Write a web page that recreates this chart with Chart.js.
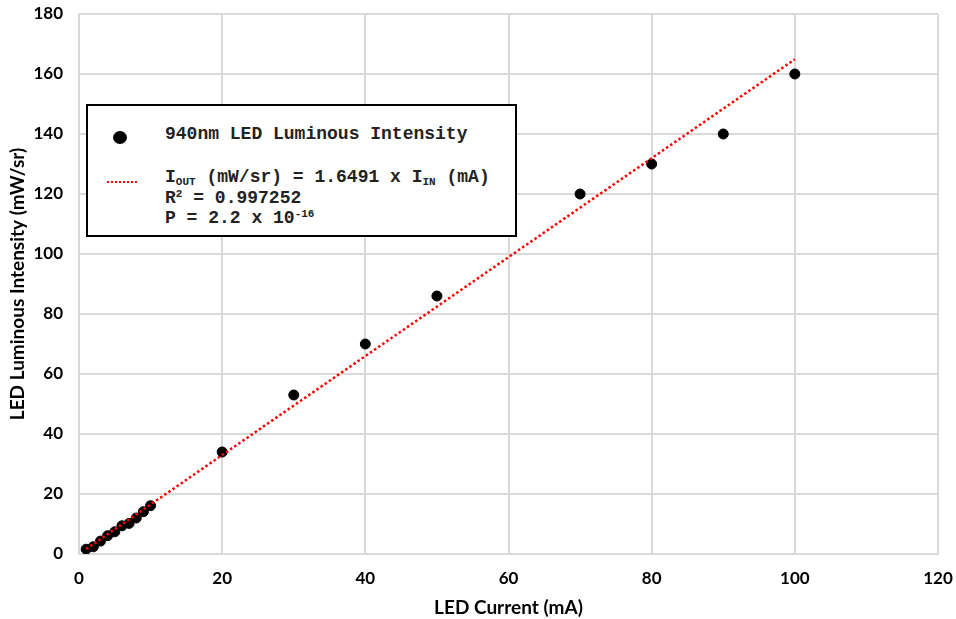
<!DOCTYPE html>
<html>
<head>
<meta charset="utf-8">
<script src="https://cdn.jsdelivr.net/npm/chart.js@4"></script>
<style>
  body { margin: 0; background: #fff; }
  #wrap { position: relative; width: 956px; height: 619px; }
  #legendBox {
    position: absolute; left: 86px; top: 104px; width: 427px; height: 129px;
    border: 2px solid #000; background: #fff;
    font-family: "Liberation Mono", "DejaVu Sans Mono", monospace; font-weight: bold; font-size: 18px; color: #222;
  }
  #legendBox .dot { position: absolute; left: 25px; top: 25px; width: 14px; height: 13px; border-radius: 50%; background: #000; }
  #legendBox .dash { position: absolute; left: 19px; top: 75px; width: 30px; border-top: 2.5px dotted #f00; }
  #legendBox .t { position: absolute; left: 77px; white-space: nowrap; line-height: 20px; }
  #legendBox sub { font-size: 11px; vertical-align: -3px; line-height: 0; }
  #legendBox sup { font-size: 11px; vertical-align: 6px; line-height: 0; }
</style>
</head>
<body>
<div id="wrap">
  <canvas id="chart" width="956" height="619"></canvas>
  <div id="legendBox">
    <div class="dot"></div>
    <div class="t" style="top:18px">940nm LED Luminous Intensity</div>
    <div class="dash"></div>
    <div class="t" style="top:61px">I<sub>OUT</sub> (mW/sr) = 1.6491 x I<sub>IN</sub> (mA)</div>
    <div class="t" style="top:82px">R<sup>2</sup> = 0.997252</div>
    <div class="t" style="top:102px">P = 2.2 x 10<sup>-16</sup></div>
  </div>
</div>
<script>
// measured points
const currents = [1, 2, 3, 4, 5, 6, 7, 8, 9, 10, 20, 30, 40, 50, 70, 80, 90, 100];
const intensities = [1.6, 2.4, 4.3, 6.1, 7.4, 9.4, 10.2, 12, 14.1, 16.1, 34, 53, 70, 86, 120, 130, 140, 160];

// fitted line I_OUT = 1.6491 x I_IN, endpoints
const fitX = [1, 100];
const fitY = [1.6491, 164.91];

const xTicks = [0, 20, 40, 60, 80, 100, 120];
const yTicks = [0, 20, 40, 60, 80, 100, 120, 140, 160, 180];

const gridColor = '#d9d9d9';
const tickFont = { family: 'Lato, "Open Sans", sans-serif', size: 17, weight: 'bold' };
const titleFont = { family: 'Lato, "Open Sans", sans-serif', size: 19, weight: 'bold' };

// keep chart area where the reference has it (no extra label padding)
function noPad(scale) {
    scale.paddingTop = 0;
    scale.paddingBottom = 0;
    scale.paddingLeft = 0;
    scale.paddingRight = 0;
}

const ctx = document.getElementById('chart').getContext('2d');
const chart = new Chart(ctx, {
    type: 'scatter',
    data: {
        datasets: [
            {
                label: 'Fit',
                type: 'line',
                data: fitX.map((x, i) => ({ x: x, y: fitY[i] })),
                borderColor: '#ff0000',
                borderWidth: 2.5,
                borderDash: [2.5, 2.5],
                pointRadius: 0,
                fill: false
            },
            {
                label: '940nm LED Luminous Intensity',
                data: currents.map((x, i) => ({ x: x, y: intensities[i] })),
                backgroundColor: '#000',
                borderColor: '#000',
                pointRadius: 5,
                pointHoverRadius: 5
            }
        ]
    },
    options: {
        responsive: false,
        animation: false,
        layout: { padding: { left: 0, right: 18, top: 14, bottom: 0 } },
        plugins: { legend: { display: false }, tooltip: { enabled: false } },
        scales: {
            x: {
                type: 'linear',
                min: 0, max: 120,
                afterBuildTicks: scale => { scale.ticks = xTicks.map(v => ({ value: v })); },
                afterFit: scale => { scale.height = 65; noPad(scale); },
                grid: { color: gridColor, lineWidth: 2, drawTicks: false },
                border: { color: gridColor, width: 2 },
                ticks: { color: '#000', font: tickFont, padding: 14, maxRotation: 0 },
                title: { display: true, text: 'LED Current (mA)', color: '#000', font: titleFont, padding: { top: 4, bottom: 0 } }
            },
            y: {
                type: 'linear',
                min: 0, max: 180,
                afterBuildTicks: scale => { scale.ticks = yTicks.map(v => ({ value: v })); },
                afterFit: scale => { scale.width = 79; noPad(scale); },
                grid: { color: gridColor, lineWidth: 2, drawTicks: false },
                border: { color: gridColor, width: 2 },
                ticks: { color: '#000', font: tickFont, padding: 16 },
                title: { display: true, text: 'LED Luminous Intensity (mW/sr)', color: '#000', font: titleFont, padding: { top: 6, bottom: 4 } }
            }
        }
    }
});
</script>
</body>
</html>
